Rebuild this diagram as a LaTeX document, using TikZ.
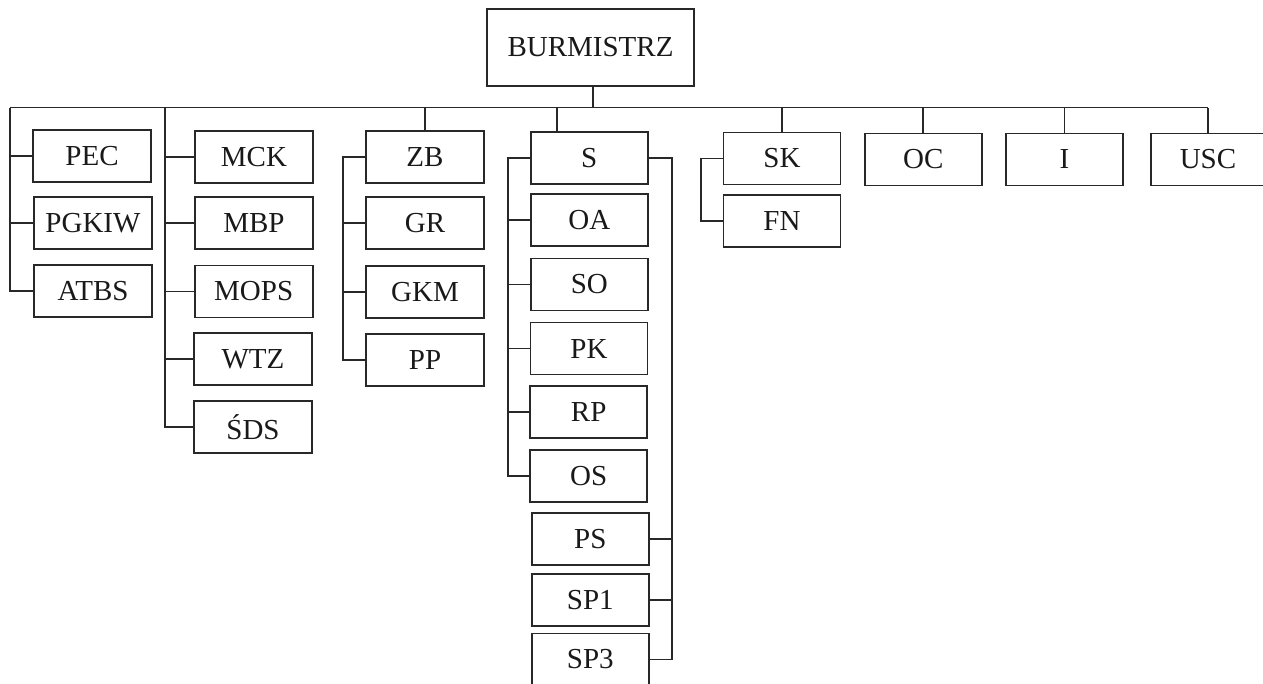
\documentclass[tikz,border=0pt]{standalone}
\usepackage{fontspec}
\setmainfont{Liberation Serif}
\definecolor{ink}{RGB}{40,40,40}
\definecolor{txt}{RGB}{25,25,25}
\begin{document}
\begin{tikzpicture}[x=1pt,y=-1pt,
  orgbox/.style={draw=ink, line width=1.8pt, minimum width=118pt, minimum height=52pt,
    inner sep=0pt, text=txt, font=\fontsize{29}{29}\selectfont},
  sbox/.style={orgbox, minimum width=117pt},
  link/.style={draw=ink, line width=1.7pt}]
\useasboundingbox (0,0) rectangle (1263,683);
% top
\node[orgbox, minimum width=207pt, minimum height=77pt] (bur) at (590.5,47.5) {BURMISTRZ};
% column 1
\node[orgbox] (pec) at (92,156) {PEC};
\node[orgbox] (pgkiw) at (93,222.8) {PGKIW};
\node[orgbox] (atbs) at (93,291) {ATBS};
% column 2
\node[orgbox] (mck) at (254,156.7) {MCK};
\node[orgbox] (mbp) at (254,223) {MBP};
\node[orgbox] (mops) at (253.7,291.5) {MOPS};
\node[orgbox] (wtz) at (253,359.3) {WTZ};
\node[orgbox] (sds) at (253,427.2) {ŚDS};
% column 3
\node[orgbox] (zb) at (425,157.2) {ZB};
\node[orgbox] (gr) at (425,223.2) {GR};
\node[orgbox] (gkm) at (425,291.8) {GKM};
\node[orgbox] (pp) at (425,359.7) {PP};
% column 4
\node[sbox] (s) at (589.3,157.8) {S};
\node[sbox] (oa) at (589.3,220) {OA};
\node[sbox] (so) at (589.3,284.5) {SO};
\node[sbox] (pk) at (589,348.5) {PK};
\node[sbox] (rp) at (588.7,412.2) {RP};
\node[sbox] (os) at (588.7,475.8) {OS};
\node[sbox] (ps) at (590.3,538.8) {PS};
\node[sbox] (spa) at (590.3,600) {SP1};
\node[sbox] (spb) at (590.3,659.5) {SP3};
% right
\node[sbox] (sk) at (782,158.5) {SK};
\node[sbox] (fn) at (782,220.7) {FN};
\node[sbox] (oc) at (923.2,159.5) {OC};
\node[sbox] (ii) at (1064.5,159.5) {I};
\node[orgbox, minimum width=114pt] (usc) at (1208,159.5) {USC};

% coordinates
\coordinate (busL) at (10,107.5);
\coordinate (busR) at (1208.3,107.5);
\coordinate (burstem) at (593,0);
\coordinate (c2) at (165,107.5);
\coordinate (zbx) at (343,0);
\coordinate (sstem) at (557.3,0);
\coordinate (slx) at (508,0);
\coordinate (srx) at (672,0);
\coordinate (skx) at (701,0);

% bus
\draw[link] (busL) -- (busR);
\draw[link] (bur.south -| burstem) -- (burstem |- busL);
% column 1 bracket
\draw[link] (busL) -- (busL |- atbs.west) -- (atbs.west);
\draw[link] (pec.west) -- (pec.west -| busL);
\draw[link] (pgkiw.west) -- (pgkiw.west -| busL);
% column 2 bracket
\draw[link] (c2) -- (c2 |- sds.west) -- (sds.west);
\draw[link] (mck.west) -- (mck.west -| c2);
\draw[link] (mbp.west) -- (mbp.west -| c2);
\draw[link] (mops.west) -- (mops.west -| c2);
\draw[link] (wtz.west) -- (wtz.west -| c2);
% column 3
\draw[link] (zb.north) -- (zb.north |- busL);
\draw[link] (zb.west) -- (zb.west -| zbx) -- (zbx |- pp.west) -- (pp.west);
\draw[link] (gr.west) -- (gr.west -| zbx);
\draw[link] (gkm.west) -- (gkm.west -| zbx);
% column 4
\draw[link] (s.north -| sstem) -- (sstem |- busL);
\draw[link] (s.west) -- (s.west -| slx) -- (slx |- os.west) -- (os.west);
\draw[link] (oa.west) -- (oa.west -| slx);
\draw[link] (so.west) -- (so.west -| slx);
\draw[link] (pk.west) -- (pk.west -| slx);
\draw[link] (rp.west) -- (rp.west -| slx);
\draw[link] (s.east) -- (s.east -| srx) -- (srx |- spb.east) -- (spb.east);
\draw[link] (ps.east) -- (ps.east -| srx);
\draw[link] (spa.east) -- (spa.east -| srx);
% right group
\draw[link] (sk.north) -- (sk.north |- busL);
\draw[link] (sk.west) -- (sk.west -| skx) -- (skx |- fn.west) -- (fn.west);
\draw[link] (oc.north) -- (oc.north |- busL);
\draw[link] (ii.north) -- (ii.north |- busL);
\draw[link] (usc.north -| busR) -- (busR);
\end{tikzpicture}
\end{document}
